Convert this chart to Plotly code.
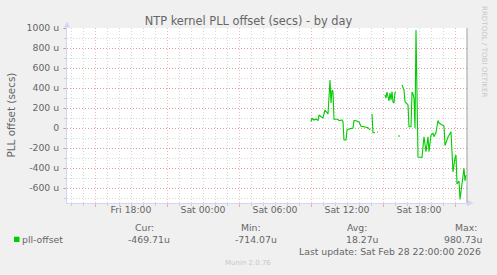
import plotly.graph_objects as go

# ---------------- data ----------------
day = "2026-02-28 "
times_hm = ["09:00","09:05","09:15","09:25","09:35","09:40","09:50","10:00","10:10","10:20",
            "10:25","10:35","10:40","10:45","10:50","10:55","11:15","11:20","11:35","11:40",
            "11:45","11:55","12:00","12:05","12:20","12:30","12:35","12:45","13:00","13:10",
            "13:25","13:45","13:55","14:00","14:05","14:10","14:15","14:20","14:25","14:30",
            "14:35","14:40","15:10","15:15","15:20","15:30","15:35","15:40","15:45","15:50",
            "15:55","16:00","16:05","16:10","16:15","16:20","16:25","16:30","16:35","16:45",
            "16:50","17:00","17:05","17:10","17:20","17:25","17:30","17:35","17:40","17:45",
            "17:55","18:15","18:25","18:35","18:45","18:50","19:00","19:10","19:15","19:25",
            "19:35","19:40","19:50","20:05","20:10","20:25","20:40","20:50","21:00","21:05",
            "21:10","21:20","21:25","21:35","21:45","21:50","21:55"]
offset_u = [63, 97, 80, 90, 73, 130, 113, 103, 180, 150,
            140, 480, 250, 380, 363, 87, 87, 73, 80, 63,
            -120, -120, -20, -13, -5, 0, 75, 73, 60, 18,
            13, 3, -20, None, 140, -48, -48, -45, None, -40,
            -40, None, 330, 300, 360, 270, 350, 280, 365, 260,
            250, 355, 360, None, -80, -80, -80, None, 430, 380,
            263, 240, 230, 13, 13, 360, 340, 300, -3, 980.73,
            -290, -293, -87, -237, -87, -237, -70, -53, -87, -45,
            75, 50, 35, 20, -175, -90, -37, -440, -300, -270,
            -560, -530, -714.07, -560, -403, -530, -469.71]
times = [day + t for t in times_hm]

x_range = ["2026-02-27 12:40", "2026-02-28 22:00"]
x_label_ticks = ["2026-02-27 18:00", "2026-02-28 00:00", "2026-02-28 06:00",
                 "2026-02-28 12:00", "2026-02-28 18:00"]
y_ticks = [-600, -400, -200, 0, 200, 400, 600, 800, 1000]
y_ticktext = [("%d u" % v) if v != 0 else "0" for v in y_ticks]

series_name = "pll-offset"
stat_labels = ["Cur:", "Min:", "Avg:", "Max:"]
stat_values = ["-469.71u", "-714.07u", "18.27u", "980.73u"]
last_update = "Last update: Sat Feb 28 22:00:00 2026"
title = "NTP kernel PLL offset (secs) - by day"
y_title = "PLL offset (secs)"
watermark = "RRDTOOL / TOBI OETIKER"
footer = "Munin 2.0.76"

# ---------------- style ----------------
W, H = 497, 275
L, R, T, B = 67, 30, 28, 72
PW, PH = W - L - R, H - T - B
FONT = "DejaVu Sans"
FC = "#666666"
GREEN = "#00CC00"
AXIS = "#CFD6F8"
RED_GRID = "rgba(230,80,80,0.42)"
GRAY_GRID = "rgba(150,150,150,0.38)"
DOT = "1px,2px"


def px(x):
    return (x - L) / PW


def py(y):
    return (T + PH - y) / PH


fig = go.Figure()
fig.add_trace(go.Scatter(x=times, y=offset_u, mode="lines",
                         line=dict(color=GREEN, width=1.1),
                         connectgaps=False, showlegend=False, hoverinfo="skip"))
fig.add_trace(go.Scatter(x=[], y=[], xaxis="x2", yaxis="y", showlegend=False))

fig.update_layout(
    width=W, height=H,
    margin=dict(l=L, r=R, t=T, b=B, pad=0),
    paper_bgcolor="#F0F0F0", plot_bgcolor="#FFFFFF",
    font=dict(family=FONT, color=FC, size=9.3),
    title=dict(text=title, x=0.5, xref="container", xanchor="center",
               y=1 - 21 / H, yref="container", yanchor="middle",
               font=dict(size=11.4, color=FC, family=FONT)),
    xaxis=dict(type="date", range=x_range, showticklabels=False,
               tick0="2026-02-27 15:00", dtick=6 * 3600000,
               showgrid=True, gridcolor=RED_GRID, griddash=DOT, gridwidth=1,
               ticks="outside", ticklen=3, tickcolor=RED_GRID,
               minor=dict(tick0="2026-02-27 15:00", dtick=3600000, showgrid=True,
                          gridcolor=GRAY_GRID, griddash=DOT, gridwidth=1,
                          ticks="outside", ticklen=2, tickcolor=GRAY_GRID),
               showline=True, linecolor=AXIS, linewidth=1, zeroline=False,
               fixedrange=True),
    xaxis2=dict(type="date", range=x_range, overlaying="x", anchor="y", side="bottom",
                tickvals=x_label_ticks, tickformat="%a %H:%M", showgrid=False,
                ticks="", showline=False, zeroline=False,
                tickfont=dict(size=9.3, color=FC, family=FONT), fixedrange=True),
    yaxis=dict(range=[-750, 1000], tickvals=y_ticks, ticktext=y_ticktext,
               showgrid=True, gridcolor=RED_GRID, griddash=DOT, gridwidth=1,
               ticks="outside", ticklen=3, tickcolor=RED_GRID,
               minor=dict(dtick=100, tick0=-700, showgrid=True, gridcolor=GRAY_GRID,
                          griddash=DOT, gridwidth=1, ticks="outside", ticklen=2,
                          tickcolor=GRAY_GRID),
               showline=True, linecolor=AXIS, linewidth=1, zeroline=False,
               tickfont=dict(size=9.3, color=FC, family=FONT), ticklabelstandoff=2,
               fixedrange=True),
)

shapes = [
    # y axis arrow
    dict(type="path", xref="paper", yref="paper",
         path=f"M {px(67)} {py(21.5)} L {px(64)} {py(27.5)} L {px(70)} {py(27.5)} Z",
         fillcolor=AXIS, line=dict(width=0)),
    # x axis arrow
    dict(type="path", xref="paper", yref="paper",
         path=f"M {px(473.5)} {py(203)} L {px(467.5)} {py(200)} L {px(467.5)} {py(206)} Z",
         fillcolor=AXIS, line=dict(width=0)),
    # right frame line
    dict(type="line", xref="paper", yref="paper", x0=px(467), x1=px(467),
         y0=py(203), y1=py(28), line=dict(color="#A0A0A0", width=1)),
    # legend swatch
    dict(type="rect", xref="paper", yref="paper", x0=px(14), x1=px(19.5),
         y0=py(242), y1=py(236.7), fillcolor=GREEN, line=dict(width=0)),
]
fig.update_layout(shapes=shapes)

ann = []


def text(t, x, y, size=9.3, color=FC, xanchor="center", angle=0):
    ann.append(dict(text=t, x=px(x), y=py(y), xref="paper", yref="paper",
                    xanchor=xanchor, yanchor="middle", showarrow=False,
                    textangle=angle, font=dict(size=size, color=color, family=FONT)))


text(y_title, 10, 115.5, size=10.4, angle=-90)
text(watermark, 485, 51, size=7.1, color="#C8C8C8", angle=90)
text(series_name, 20, 239.5, xanchor="left")
label_x = [144, 251, 357, 466]
value_x = [148.5, 256, 362, 463.5]
for lbl, lx in zip(stat_labels, label_x):
    text(lbl, lx, 227.5)
for val, vx in zip(stat_values, value_x):
    text(val, vx, 239.5)
text(last_update, 483, 251.5, xanchor="right")
text(footer, 248, 263, size=7.0, color="#C8C8C8")
fig.update_layout(annotations=ann)

fig.write_html("out.html")
